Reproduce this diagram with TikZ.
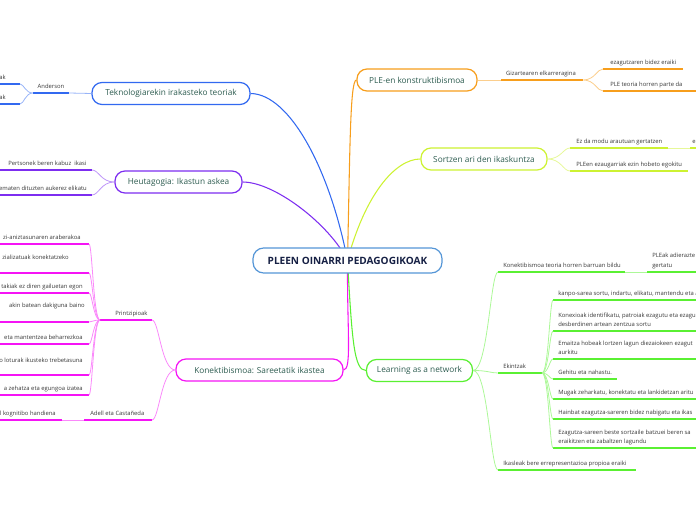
\documentclass[tikz,border=0pt]{standalone}
\usepackage{fontspec}
\setmainfont{Open Sans}
\usetikzlibrary{calc,backgrounds}

\definecolor{mapblue}{RGB}{50, 105, 240}
\definecolor{mappurple}{RGB}{125, 45, 240}
\definecolor{mapmagenta}{RGB}{245, 20, 245}
\definecolor{maporange}{RGB}{247, 158, 28}
\definecolor{mapyellow}{RGB}{205, 242, 50}
\definecolor{mapgreen}{RGB}{90, 240, 50}
\definecolor{rootblue}{RGB}{85, 150, 215}
\definecolor{topicgreen}{RGB}{45, 92, 80}
\definecolor{rootnavy}{RGB}{22, 32, 68}
\definecolor{leafgray}{RGB}{55, 55, 55}

\tikzset{
  rootbox/.style={draw=rootblue, line width=0.9pt, rounded corners=8pt, fill=white,
    text=rootnavy, font=\fontsize{7.55}{8.5}\selectfont\bfseries,
    minimum width=141.75pt, minimum height=18.75pt, inner sep=0pt},
  topic/.style={draw=#1, line width=0.9pt, rounded corners=7.5pt, fill=white,
    text=topicgreen, font=\fontsize{6.2}{7.2}\selectfont,
    minimum height=16.5pt, inner sep=0pt},
  leaf/.style={text=leafgray, font=\fontsize{4.4}{5.3}\selectfont, inner sep=0pt},
  uline/.style={draw=#1, line width=1.3pt},
  link/.style={draw=#1!50, line width=0.6pt},
  trunk/.style={draw=#1, line width=0.8pt},
  fork/.style={to path={.. controls ($(\tikztostart)!0.6!(\tikztostart -| \tikztotarget)$)
    and ($(\tikztotarget)!0.3!(\tikztotarget -| \tikztostart)$) .. (\tikztotarget)}}
}

\begin{document}
\begin{tikzpicture}[x=0.75pt, y=-0.75pt]
  \useasboundingbox (0,0) rectangle (696,520);
  \clip (0,0) rectangle (696,520);

  % centre and main topics
  \node[rootbox] (root) at (347.5,260.5) {PLEEN OINARRI PEDAGOGIKOAK};
  \node[topic=mapblue, minimum width=118.5pt] (tekno) at (171,93.5) {Teknologiarekin irakasteko teoriak};
  \node[topic=mappurple, minimum width=95.25pt] (heuta) at (178.5,182) {Heutagogia: Ikastun askea};
  \node[topic=mapmagenta, minimum width=125.25pt] (konek) at (259.5,370) {Konektibismoa: Sareetatik ikastea};
  \node[topic=maporange, minimum width=90pt] (plekon) at (417,80) {PLE-en konstruktibismoa};
  \node[topic=mapyellow, minimum width=94.5pt] (sortzen) at (484,159) {Sortzen ari den ikaskuntza};
  \node[topic=mapgreen, minimum width=79.5pt] (learn) at (419.5,370.5) {Learning as a network};

  % branches out of the centre
  \begin{pgfonlayer}{background}
    \draw[trunk=mapblue] (root.center) .. controls (330,170) and (290,94) .. (tekno.east);
    \draw[trunk=mappurple] (root.center) .. controls (330,225) and (275,182) .. (heuta.east);
    \draw[trunk=maporange] (root.center) .. controls (350,150) and (350,80) .. (plekon.west);
    \draw[trunk=mapyellow] (root.center) .. controls (365,195) and (395,159) .. (sortzen.west);
    \draw[trunk=mapmagenta] (root.center) .. controls (347,330) and (352,370) .. (konek.east);
    \draw[trunk=mapgreen] (root.center) .. controls (352,340) and (354,370.5) .. (learn.west);
  \end{pgfonlayer}

  % Teknologia branch
  \node[leaf, anchor=base] (anderson) at (51,88.5) {Anderson};
  \draw[uline=mapblue] (33,93) coordinate (andL) -- (69,93) coordinate (andR);
  \node[leaf, anchor=base east] (tekA) at (6,79.5) {ak};
  \draw[uline=mapblue] (-5,84) -- (20,84) coordinate (tekAR);
  \node[leaf, anchor=base east] (tekB) at (6,99.5) {ak};
  \draw[uline=mapblue] (-5,104) -- (20,104) coordinate (tekBR);
  \draw[link=mapblue] (tekno.west) -- (andR);
  \draw[link=mapblue] (andL) to[fork] (tekAR) (andL) to[fork] (tekBR);

  % Heutagogia branch
  \node[leaf, anchor=base west] (heuA) at (8,165.5) {Pertsonek beren kabuz\ \ ikasi};
  \draw[uline=mappurple] (-5,170) -- (92,170) coordinate (heuAR);
  \node[leaf, anchor=base east] (heuB) at (87,190.5) {ematen dituzten aukerez elikatu};
  \draw[uline=mappurple] (-5,195) -- (92,195) coordinate (heuBR);
  \draw[link=mappurple] (heuta.west) to[fork] (heuAR) (heuta.west) to[fork] (heuBR);

  % Konektibismoa branch
  \node[leaf, anchor=base west] (printz) at (115,315.5) {Printzipioak};
  \draw[uline=mapmagenta] (100,320) coordinate (prL) -- (152,320) coordinate (prR);
  \node[leaf, anchor=base west] (adell) at (90,415.5) {Adell eta Castañeda};
  \draw[uline=mapmagenta] (84,420) coordinate (adL) -- (152,420) coordinate (adR);
  \draw[link=mapmagenta] (konek.west) to[fork] (prR) (konek.west) to[fork] (adR);
  \foreach \n/\ul/\bl/\xe/\txt in {
      1/244/239.5/81/{zi-aniztasunaren araberakoa},
      2/273/260/69/{zializatuak konektatzeko},
      3/293/288.5/83/{takiak ez diren gailuetan egon},
      4/322/308/85/{akin batean dakiguna baino},
      5/344/339.5/83/{eta mantentzea beharrezkoa},
      6/375/362/83/{o loturak ikusteko trebetasuna},
      7/395/390.5/83/{a zehatza eta egungoa izatea}} {
    \node[leaf, anchor=base east] (pr\n) at (\xe,\bl) {\txt};
    \draw[uline=mapmagenta] (-5,\ul) -- (89,\ul) coordinate (pr\n-r);
    \draw[link=mapmagenta] (prL) to[fork] (pr\n-r);
  }
  \node[leaf, anchor=base east] (adA) at (56,415.5) {l kognitibo handiena};
  \draw[uline=mapmagenta] (-5,420) -- (62,420) coordinate (adAR);
  \draw[link=mapmagenta] (adL) -- (adAR);

  % PLE-en konstruktibismoa branch
  \node[leaf, anchor=base] (gizarte) at (541,75.5) {Gizartearen elkarreragina};
  \draw[uline=maporange] (501,80) coordinate (gizL) -- (583,80) coordinate (gizR);
  \draw[link=maporange] (plekon.east) -- (gizL);
  \node[leaf, anchor=base west] (gizA) at (610,64.5) {ezagutzaren bidez eraiki};
  \draw[uline=maporange] (603,69) coordinate (gizAL) -- (683,69);
  \node[leaf, anchor=base west] (gizB) at (610,86.5) {PLE teoria horren parte da};
  \draw[uline=maporange] (603,91) coordinate (gizBL) -- (700,91);
  \draw[link=maporange] (gizR) to[fork] (gizAL) (gizR) to[fork] (gizBL);

  % Sortzen branch
  \node[leaf, anchor=base west] (sortA) at (576,143.5) {Ez da modu arautuan gertatzen};
  \draw[uline=mapyellow] (570,148) coordinate (sortAL) -- (668,148) coordinate (sortAR);
  \node[leaf, anchor=base west] (sortAA) at (692,143.5) {e};
  \draw[uline=mapyellow] (690,148) coordinate (sortAAL) -- (700,148);
  \draw[link=mapyellow] (sortAR) -- (sortAAL);
  \node[leaf, anchor=base west] (sortB) at (576,166.5) {PLEen ezaugarriak ezin hobeto egokitu};
  \draw[uline=mapyellow] (570,171) coordinate (sortBL) -- (688,171);
  \draw[link=mapyellow] (sortzen.east) to[fork] (sortAL) (sortzen.east) to[fork] (sortBL);

  % Learning as a network branch
  \node[leaf, anchor=base west] (lnA) at (503,267.5) {Konektibismoa teoria horren barruan bildu};
  \draw[uline=mapgreen] (498,272) coordinate (lnAL) -- (625,272) coordinate (lnAR);
  \node[leaf, anchor=base west] (lnAA) at (652,258) {PLEak adierazte};
  \node[leaf, anchor=base west] (lnAAb) at (652,267.5) {gertatu};
  \draw[uline=mapgreen] (647,272) coordinate (lnAAL) -- (700,272);
  \draw[link=mapgreen] (lnAR) -- (lnAAL);
  \node[leaf, anchor=base west] (ekintz) at (503,368.5) {Ekintzak};
  \draw[uline=mapgreen] (498,373) coordinate (ekL) -- (542,373) coordinate (ekR);
  \node[leaf, anchor=base west] (lnC) at (503,465.5) {Ikasleak bere errepresentazioa propioa eraiki};
  \draw[uline=mapgreen] (498,470) coordinate (lnCL) -- (636,470);
  \draw[link=mapgreen] (learn.east) to[fork] (lnAL) (learn.east) to[fork] (ekL) (learn.east) to[fork] (lnCL);

  % Ekintzak items
  \foreach \n/\ul/\xe/\txt in {
      1/300/700/{kanpo-sarea sortu, indartu, elikatu, mantendu eta a},
      4/379/617/{Gehitu eta nahastu.},
      5/399/700/{Mugak zeharkatu, konektatu eta lankidetzan aritu},
      6/419/700/{Hainbat ezagutza-sareren bidez nabigatu eta ikas}} {
    \node[leaf, anchor=base west] (ek\n) at (558,\ul-4.5) {\txt};
    \draw[uline=mapgreen] (553,\ul) coordinate (ek\n-l) -- (\xe,\ul);
    \draw[link=mapgreen] (ekR) to[fork] (ek\n-l);
  }
  \foreach \n/\ul/\txt/\txtb in {
      2/331/{Konexioak identifikatu, patroiak ezagutu eta ezagu}/{desberdinen artean zentzua sortu},
      3/359/{Emaitza hobeak lortzen lagun diezaiokeen ezagut}/{aurkitu},
      7/448/{Ezagutza-sareen beste sortzaile batzuei beren sa}/{eraikitzen eta zabaltzen lagundu}} {
    \node[leaf, anchor=base west] (ek\n) at (558,\ul-14) {\txt};
    \node[leaf, anchor=base west] (ek\n b) at (558,\ul-4.5) {\txtb};
    \draw[uline=mapgreen] (553,\ul) coordinate (ek\n-l) -- (700,\ul);
    \draw[link=mapgreen] (ekR) to[fork] (ek\n-l);
  }
\end{tikzpicture}
\end{document}
